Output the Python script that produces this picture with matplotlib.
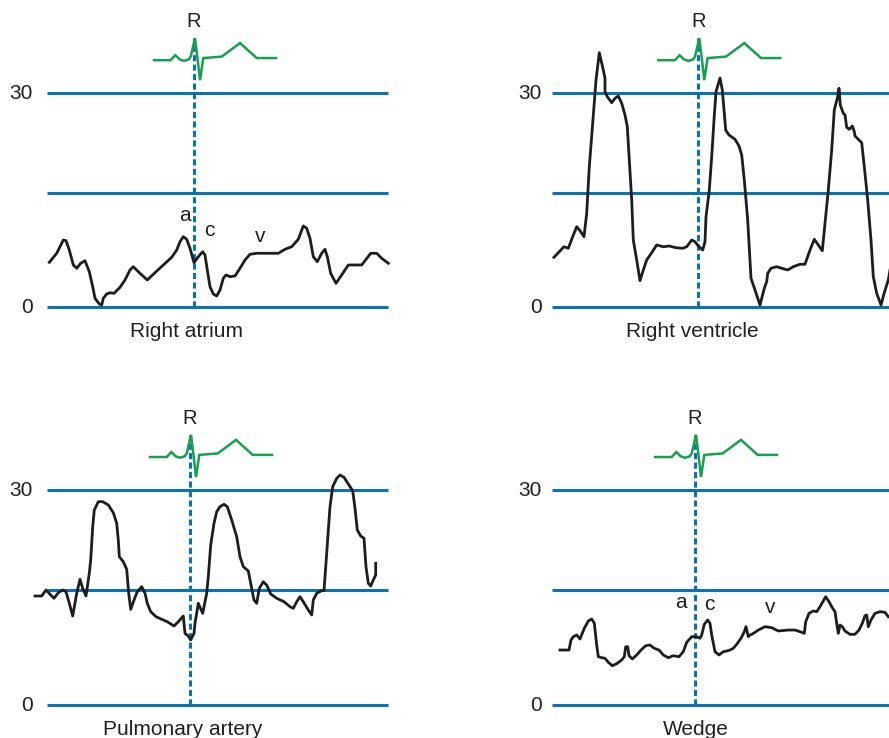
import matplotlib
matplotlib.use("Agg")
import matplotlib.pyplot as plt

# colours
BLUE = "#0b72b6"
GREEN = "#17a04e"
BLACK = "#1d1d1b"
TXT = "#231f20"

plt.rcParams['font.family'] = ['Liberation Sans', 'DejaVu Sans']

# ECG complex, time relative to the R wave, height in chart units
ecg_t = [-40, -23.3, -18.7, -14.3, -10, -5.3, -3.3, 1, 3.3, 6, 9.3, 27.7, 46, 62.7, 82]
ecg_v = [34.6, 34.6, 35.3, 34.7, 34.5, 34.7, 35.1, 37.7, 35.1, 31.8, 34.9, 35.1, 37.0, 34.9, 34.9]

grid_levels = [0, 16, 30]
tick_vals = [0, 30]

# Right atrium
ra_t = [2.3, 9.7, 13, 16.3, 19, 22.3, 26.3, 29.7, 33.7, 38, 42.3, 45.7, 48, 52.3, 54.7, 56.3,
        59.7, 63, 67, 73, 78, 83, 86.3, 93, 100.3, 108, 116.3, 124.7, 129.7, 133, 136.3, 139.7,
        143, 147, 151.3, 155.7, 158, 160.3, 163, 166.3, 169.7, 173, 176.3, 179, 183, 188, 193,
        198, 203, 209.7, 231.3, 238, 244.7, 251.3, 256.3, 259.7, 263, 266.3, 270.3, 274.7, 278,
        280.3, 283.7, 289, 294.7, 301.3, 314.7, 323.7, 329.7, 334.7, 341.3]
ra_p = [6.27, 7.53, 8.45, 9.39, 9.3, 7.99, 5.89, 5.43, 6.13, 6.49, 4.95, 2.85, 1.22, 0.42, 0.28,
        1.22, 1.82, 2.0, 1.92, 2.76, 3.79, 5.19, 5.65, 4.72, 3.79, 4.81, 5.89, 6.97, 7.99, 9.15,
        9.86, 9.49, 8.23, 6.21, 7.05, 7.75, 7.29, 5.19, 2.85, 1.82, 1.54, 2.38, 4.02, 4.49, 4.25,
        4.35, 5.43, 6.59, 7.39, 7.53, 7.53, 8.09, 8.45, 9.49, 11.36, 11.03, 9.63, 7.05, 6.35, 7.53,
        8.09, 7.05, 4.72, 3.32, 4.49, 5.89, 5.89, 7.53, 7.53, 6.83, 6.13]

# Right ventricle
rv_t = [2, 6.3, 12, 16.3, 20.7, 24.7, 28, 32, 34.7, 37.3, 40.7, 44, 47.3, 51.3, 53, 53, 55.3,
        59.7, 63, 66.3, 69.7, 73, 75.3, 77.3, 79.7, 81.3, 84.7, 88, 91.3, 94.7, 99.7, 104.7,
        111.3, 117.3, 124, 130.7, 134.7, 139.7, 143, 146.3, 150.7, 153, 154, 157.3, 159.7, 162,
        164, 168, 170.3, 172.3, 173.7, 177, 183, 187, 189.7, 192.3, 195.7, 199, 203, 208, 212.3,
        214.7, 215.7, 219, 224.7, 229.7, 235.7, 241.3, 248, 253, 258, 262.3, 266.3, 270.3, 273,
        276.3, 279.7, 282.3, 285.7, 287, 288.3, 291.3, 293, 294.7, 297.3, 300.3, 302.3, 303,
        306.3, 309.7, 312.3, 315.7, 319, 321.3, 324.7, 329, 332.3, 336.3, 338]
rv_p = [6.97, 7.61, 8.45, 8.23, 9.86, 11.26, 10.7, 9.86, 13.14, 19.67, 25.75, 31.82, 35.65,
        33.23, 32.06, 30.18, 29.48, 28.64, 29.26, 29.58, 28.56, 26.92, 25.28, 20.61, 15.0, 9.39,
        6.59, 3.69, 5.19, 6.59, 7.61, 8.69, 8.45, 8.55, 8.31, 8.23, 8.45, 9.39, 9.15, 8.55, 7.99,
        9.15, 12.66, 16.4, 21.07, 26.22, 30.18, 32.1, 30.42, 27.16, 24.81, 24.11, 23.51, 22.57,
        21.31, 17.8, 12.2, 4.02, 2.38, 0.28, 2.62, 3.55, 4.72, 5.43, 5.65, 5.43, 5.19, 5.65, 5.99,
        5.99, 7.99, 9.49, 8.69, 7.89, 11.73, 16.4, 22.01, 27.62, 29.48, 30.66, 28.32, 27.16,
        26.92, 25.19, 24.91, 25.37, 24.58, 23.97, 23.51, 23.03, 19.67, 15.0, 9.39, 4.25, 1.92,
        0.28, 2.0, 3.79, 5.19]

# Pulmonary artery
pa_t = [-12, -5.3, -1, 3.7, 7, 11.3, 15.7, 19, 22.3, 25.7, 29.7, 33, 35.7, 39, 42.3, 43.7,
        45.7, 47.3, 51.3, 55.7, 61.3, 66.3, 69.7, 71.3, 72.3, 76.3, 79.7, 81.7, 83.7, 87, 90.3,
        94.7, 98, 100.3, 103.7, 109, 114.7, 120.3, 127, 131.3, 136.3, 138, 141.3, 143.7, 147,
        148, 151.3, 155.7, 159.7, 161.3, 163.7, 167, 169.7, 173, 177, 180.3, 184.7, 189.7, 193,
        196.3, 201.3, 203.7, 207, 209.7, 212.3, 216.3, 219.7, 223.7, 229.7, 237, 243, 246.3,
        249.7, 253, 256.3, 261.3, 264.7, 266.3, 269.7, 274.7, 277, 279.7, 283, 285.7, 289.7, 293,
        297, 301.3, 305.7, 308, 310.3, 313.7, 317, 319, 321.3, 323.7, 326.3, 328.7, 328.7]
pa_p = [15.21, 15.21, 16.05, 15.35, 14.89, 15.67, 16.05, 15.81, 14.19, 12.42, 15.59, 17.54,
        16.28, 15.21, 18.38, 20.23, 24.88, 27.21, 28.37, 28.37, 27.91, 26.83, 25.35, 23.02,
        20.69, 19.99, 18.93, 15.59, 13.35, 14.65, 15.81, 16.51, 15.59, 14.19, 13.02, 12.32,
        11.96, 11.62, 11.02, 11.62, 12.42, 10.0, 9.63, 9.07, 10.0, 11.4, 14.19, 12.79, 15.59,
        17.9, 22.32, 25.35, 26.97, 27.67, 28.0, 27.67, 25.81, 23.48, 20.69, 19.3, 18.7, 16.98,
        14.65, 14.19, 16.28, 17.2, 16.74, 15.49, 14.89, 14.41, 13.72, 13.49, 14.41, 15.11, 14.41,
        13.26, 12.56, 14.65, 15.59, 15.95, 15.95, 21.17, 27.67, 30.46, 31.63, 32.09, 31.77,
        30.84, 29.9, 27.45, 24.42, 23.58, 23.26, 19.3, 16.98, 16.6, 17.44, 18.14, 19.77]

# Wedge
pw_t = [8, 17, 19, 21.3, 24.7, 28, 32.3, 36.3, 39.7, 42.3, 44.7, 46.3, 49.7, 53, 56.3, 60.3,
        64.7, 69.7, 72.3, 73.7, 75.7, 77, 80.3, 84.7, 89, 93.7, 98, 102.3, 107, 111.3, 116.3,
        121.3, 127, 131.3, 134.7, 139.7, 144.7, 148, 149.7, 152.3, 155.7, 158, 159.7, 163, 167,
        171.3, 174.7, 178, 181.3, 184.7, 189, 192.3, 194, 196.3, 198, 199.7, 203, 206.3, 213,
        219.7, 226.3, 236.3, 243, 248, 252.3, 253.7, 257, 261.3, 264.7, 268, 273.7, 277, 280.3,
        283, 284.7, 286.3, 288, 290.3, 293, 298, 303, 307, 310.3, 313, 314.7, 316.3, 319, 323,
        328, 333, 336.3]
pw_p = [7.67, 7.67, 9.07, 9.53, 9.77, 9.21, 10.7, 11.72, 12.0, 11.4, 8.37, 6.74, 6.6, 6.52,
        5.96, 5.48, 5.76, 6.28, 6.74, 8.13, 8.13, 6.88, 6.42, 6.98, 7.67, 8.27, 8.37, 7.91, 7.67,
        6.98, 6.6, 6.88, 6.74, 7.44, 8.75, 9.53, 9.53, 9.31, 9.77, 11.26, 11.86, 11.4, 9.77,
        7.44, 6.98, 7.44, 7.53, 7.67, 7.91, 8.47, 9.31, 10.23, 10.93, 9.53, 9.77, 9.86, 10.14,
        10.46, 10.93, 10.79, 10.33, 10.46, 10.46, 10.23, 10.0, 11.62, 12.79, 13.12, 13.02, 13.72,
        15.11, 14.41, 13.58, 13.02, 11.4, 10.0, 11.16, 10.93, 10.33, 9.86, 9.86, 10.46, 11.4,
        12.46, 12.56, 10.93, 11.86, 12.79, 13.02, 12.93, 12.32]

titles = ["Right atrium", "Right ventricle", "Pulmonary artery", "Wedge"]
title_x = [140, 140, 136, 144]
r_times = [147, 146.3, 143, 143]
wave_labels = ["a", "c", "v"]
ra_wave_t = [138, 162.3, 213]
ra_wave_p = [12.1, 9.95, 9.15]
pw_wave_t = [129, 157.3, 218]
pw_wave_p = [13.5, 13.25, 12.8]

W, H = 889, 738
fig = plt.figure(figsize=(W / 100, H / 100), dpi=100)


def panel(left, right, top, bottom, zero_px, thirty_px, x0_px, line_end):
    ax = fig.add_axes([left / W, 1 - bottom / H, (right - left) / W, (bottom - top) / H])
    s = (zero_px - thirty_px) / 30.0
    ax.set_ylim((zero_px - bottom) / s, (zero_px - top) / s)
    ax.set_xlim(left - x0_px, right - x0_px)
    ax.axis("off")
    ax.hlines(grid_levels, 0, line_end, colors=BLUE, lw=2.2, zorder=1)
    return ax


panels = [
    panel(0, 444, 0, 369, 307, 93, 47, 341),
    panel(444, 889, 0, 369, 307, 93, 552, 345),
    panel(0, 444, 369, 738, 705, 490, 47, 341),
    panel(444, 889, 369, 738, 705, 490, 552, 345),
]
traces = [(ra_t, ra_p), (rv_t, rv_p), (pa_t, pa_p), (pw_t, pw_p)]

for i, ax in enumerate(panels):
    rt = r_times[i]
    # dashed R line
    ax.plot([rt, rt], [0, 37.7], color=BLUE, lw=2.2, ls=(0, (2, 1.1)), zorder=2)
    # ECG
    ax.plot([rt + t for t in ecg_t], ecg_v, color=GREEN, lw=1.8, zorder=4,
            solid_joinstyle="miter")
    ax.text(rt, 39.2, "R", fontsize=14.5, ha="center", va="baseline", color=TXT)
    # pressure trace
    t, p = traces[i]
    ax.plot(t, p, color=BLACK, lw=2.0, zorder=3, clip_on=False)
    # tick labels
    xl = -14 if i % 2 == 0 else -10
    for v in tick_vals:
        ax.text(xl, v - 0.9, str(v), fontsize=15, ha="right", va="baseline", color=TXT)
    ax.text(title_x[i], -4.15, titles[i], fontsize=15, ha="center", va="baseline", color=TXT)

for lab, t, p in zip(wave_labels, ra_wave_t, ra_wave_p):
    panels[0].text(t, p, lab, fontsize=15, ha="center", va="baseline", color=TXT)
for lab, t, p in zip(wave_labels, pw_wave_t, pw_wave_p):
    panels[3].text(t, p, lab, fontsize=15, ha="center", va="baseline", color=TXT)

fig.savefig("out.png", dpi=100, facecolor="white")
